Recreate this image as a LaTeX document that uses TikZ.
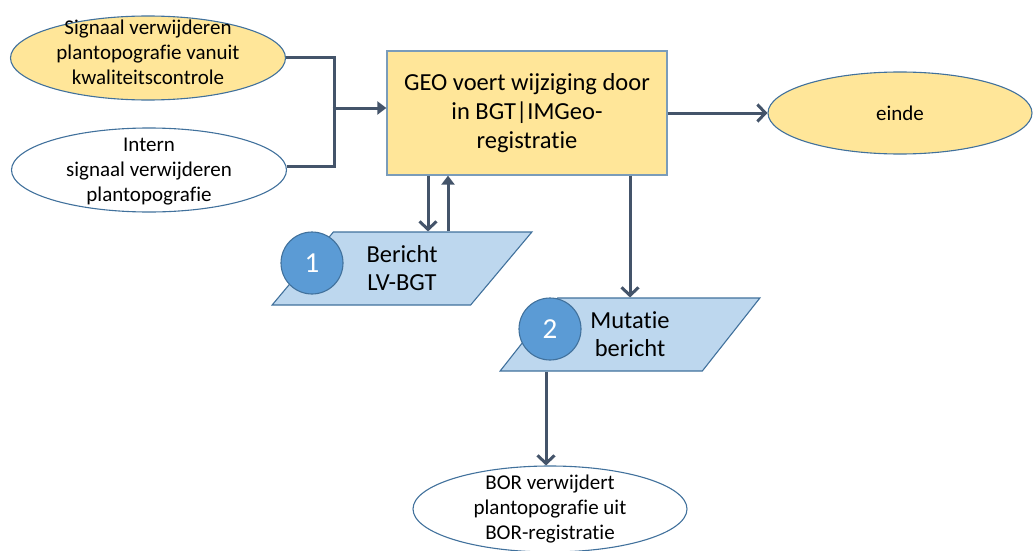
\documentclass[tikz,border=0pt]{standalone}
\usepackage{fontspec}
\setmainfont{Carlito}[Ligatures=NoCommon]
\usetikzlibrary{shapes.geometric,arrows.meta}
\definecolor{geel}{HTML}{FFE699}
\definecolor{rand}{HTML}{41719C}
\definecolor{lichtblauw}{HTML}{BDD7EE}
\definecolor{bolblauw}{HTML}{5B9BD5}
\definecolor{pijlgrijs}{HTML}{44546A}
\tikzset{
  ovaal/.style={ellipse, draw=rand, line width=1.1pt, inner sep=0pt,
    minimum width=#1, minimum height=84pt},
  ovaaltekst/.style={align=center, font=\fontsize{21}{25}\selectfont},
  blok/.style={rectangle, draw=rand!70, fill=geel, line width=1.3pt,
    minimum width=280pt, minimum height=124pt, align=center,
    font=\fontsize{24.5}{29}\selectfont},
  bericht/.style={trapezium, trapezium left angle=55, trapezium right angle=125,
    trapezium stretches=true, draw=rand, fill=lichtblauw, line width=1.1pt,
    minimum width=260pt, minimum height=73pt, inner sep=0pt, align=center,
    font=\fontsize{24.5}{28}\selectfont},
  nummer/.style={circle, draw=rand, fill=bolblauw, line width=1.1pt,
    minimum size=62pt, inner sep=0pt, text=white, font=\fontsize{29}{29}\selectfont},
  pijl/.style={draw=pijlgrijs, line width=3pt, -{Straight Barb[length=8pt,width=17pt]}},
  pijlvol/.style={draw=pijlgrijs, line width=3pt, -{Triangle[length=9pt,width=13pt]}}
}
\begin{document}
\begin{tikzpicture}[x=1pt, y=-1pt]
  \useasboundingbox (0,0) rectangle (1033,551);
  % startpunten
  \node [ovaal=275pt, fill=geel] (sig1) at (148,58) {};
  \node [ovaaltekst] (sig1txt) at (148,52) {Signaal verwijderen\\plantopografie vanuit\\kwaliteitscontrole};
  \node [ovaal=275pt, fill=white] (sig2) at (149,170) {};
  \node [ovaaltekst] (sig2txt) at (149,172) {Intern\\signaal verwijderen\\plantopografie};
  % proces
  \node [blok] (geo) at (527,113) {GEO voert wijziging door\\in BGT|IMGeo-\\registratie};
  \node [ovaal=264pt, minimum height=82pt, fill=geel] (einde) at (900,113) {};
  \node [ovaaltekst] (eindetxt) at (900,113) {einde};
  % berichten
  \node [bericht] (ber) at (402,268.5) {Bericht\\LV-BGT};
  \node [nummer] (een) at (312,263) {1};
  \node [bericht] (mut) at (630,334.5) {Mutatie\\bericht};
  \node [nummer] (twee) at (550,329) {2};
  % eind BOR
  \node [ovaal=274pt, minimum height=86pt, fill=white] (bor) at (550,509) {};
  \node [ovaaltekst] (bortxt) at (550,509) {BOR verwijdert\\plantopografie uit\\BOR-registratie};
  % verbindingen
  \coordinate (samen) at (334,108);
  \draw [draw=pijlgrijs, line width=3pt] (sig1.east) -| (samen);
  \draw [draw=pijlgrijs, line width=3pt] ([yshift=4pt]sig2.east) -| (samen);
  \draw [pijlvol] ([xshift=-1.5pt]samen) -- (geo.west |- samen);
  \draw [pijl] (geo.east) -- (einde.west);
  \draw [pijl] ([xshift=-99pt]geo.south) -- ([xshift=-99pt]geo.south |- ber.north);
  \draw [pijlvol] ([xshift=-79pt]geo.south |- ber.north) -- ([xshift=-79pt]geo.south);
  \draw [pijl] (mut.north |- geo.south) -- (mut.north);
  \draw [pijl] ([xshift=-84pt]mut.south) -- ([xshift=-84pt]mut.south |- bor.north);
\end{tikzpicture}
\end{document}
